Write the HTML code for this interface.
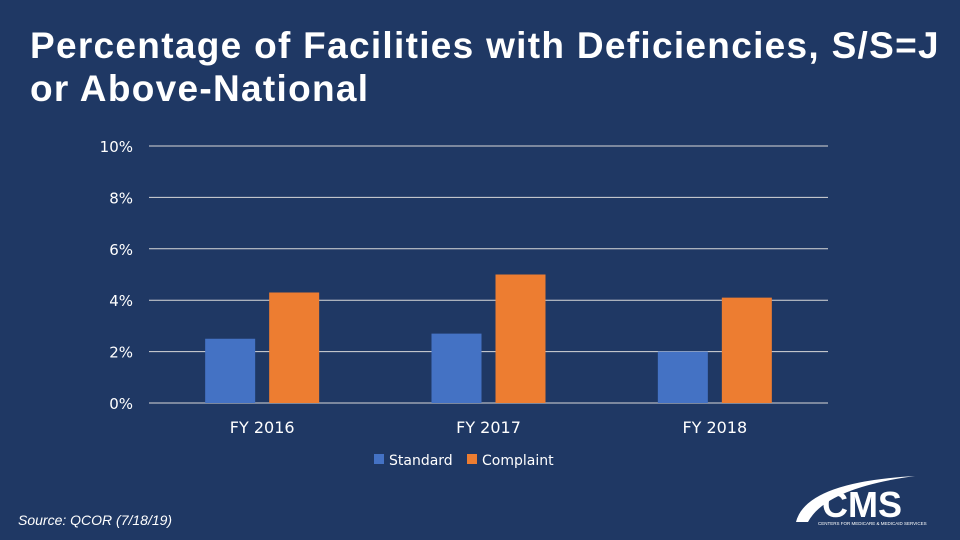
<!DOCTYPE html>
<html><head><meta charset="utf-8"><style>
html,body{margin:0;padding:0;}
body{width:960px;height:540px;background:#1f3864;overflow:hidden;position:relative;font-family:"Liberation Sans",sans-serif;}
#title{position:absolute;left:30px;top:24px;color:#fff;font-weight:bold;font-size:37px;line-height:43px;letter-spacing:1.3px;margin:0;white-space:nowrap;}
#src{position:absolute;left:18px;top:512px;color:#fff;font-style:italic;font-size:14px;}
svg{position:absolute;left:0;top:0;}
</style></head><body>
<h1 id="title">Percentage of Facilities with Deficiencies, S/S=J<br>or Above-National</h1>
<div id="src">Source: QCOR (7/18/19)</div>
<svg id="chart" width="960" height="540"></svg>
<script>
const categories=["FY 2016","FY 2017","FY 2018"];
const standardValues=[2.5,2.7,2.0];
const complaintValues=[4.3,5.0,4.1];
const tickValues=[0,2,4,6,8,10];
const tickLabels=["0%","2%","4%","6%","8%","10%"];
const NS="http://www.w3.org/2000/svg";
const svg=document.getElementById('chart');
const x0=149,x1=828,yBase=403,yTop=146,vMax=10;
const y=v=>yBase-(v/vMax)*(yBase-yTop);
const band=(x1-x0)/categories.length;
function mk(t,a,txt){const e=document.createElementNS(NS,t);for(const k in a)e.setAttribute(k,a[k]);if(txt!=null)e.textContent=txt;svg.appendChild(e);return e;}
tickValues.forEach((v,i)=>{
  const g=mk('line',{x1:x0,x2:x1,y1:y(v),y2:y(v),stroke:'#d9d9d9','stroke-width':1});
  
  
  const t=mk('text',{x:133,y:y(v)+6,'text-anchor':'end',fill:'#fff','font-size':15,'font-family':'DejaVu Sans, sans-serif'},tickLabels[i]);
  
  
});
categories.forEach((c,i)=>{
  const cx=x0+band*(i+0.5);
  const b1=mk('rect',{x:cx-57,y:y(standardValues[i]),width:50,height:yBase-y(standardValues[i]),fill:'#4472c4'});
  
  
  const b2=mk('rect',{x:cx+7,y:y(complaintValues[i]),width:50,height:yBase-y(complaintValues[i]),fill:'#ed7d31'});
  
  
  const t=mk('text',{x:cx,y:433,'text-anchor':'middle',fill:'#fff','font-size':16,'font-family':'DejaVu Sans, sans-serif'},c);
  
  
});
const l1=mk('rect',{x:374,y:454,width:10,height:10,fill:'#4472c4'});


const lt1=mk('text',{x:389,y:465,fill:'#fff','font-size':14,'font-family':'DejaVu Sans, sans-serif'},'Standard');


const l2=mk('rect',{x:467,y:454,width:10,height:10,fill:'#ed7d31'});


const lt2=mk('text',{x:482,y:465,fill:'#fff','font-size':14,'font-family':'DejaVu Sans, sans-serif'},'Complaint');


const arc=mk('path',{d:'M796 522 Q806 482 915 476 Q826 488 808 522 Z',fill:'#fff'});


const cms=mk('text',{x:822,y:517,fill:'#fff','font-size':36,'font-weight':'bold','font-family':'Liberation Sans, sans-serif'},'CMS');


const sub=mk('text',{x:818,y:525,fill:'#fff','font-size':4.5,'font-family':'Liberation Sans, sans-serif'},'CENTERS FOR MEDICARE & MEDICAID SERVICES');


</script>
</body></html>
